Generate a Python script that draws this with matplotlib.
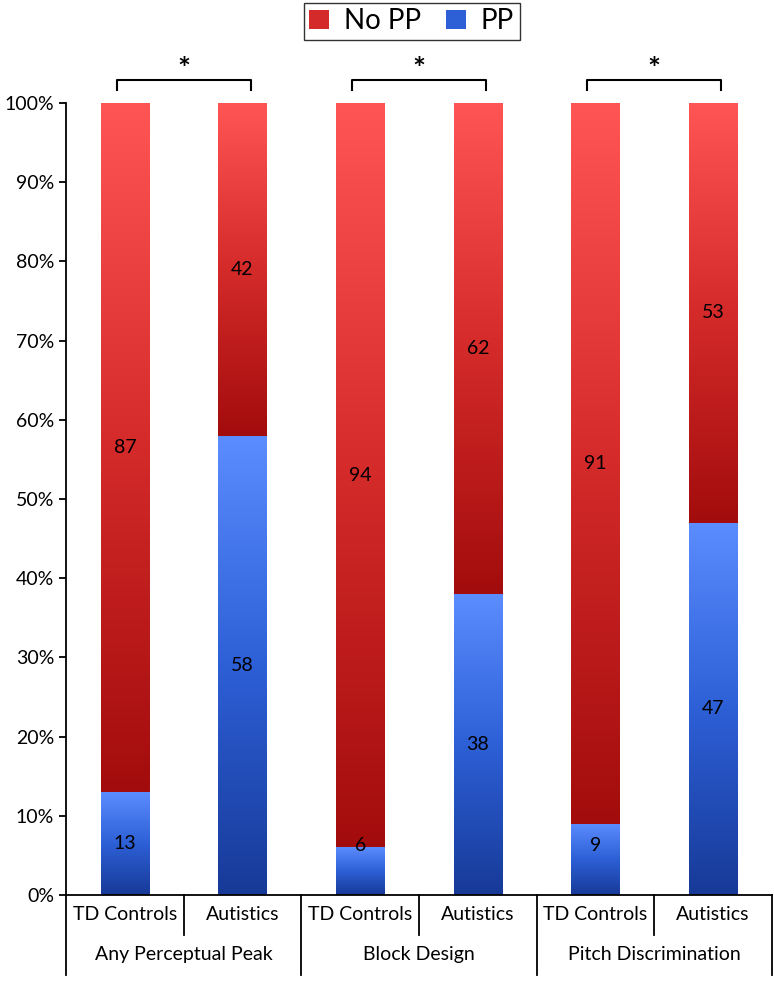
import numpy as np
import matplotlib.pyplot as plt
from matplotlib.colors import LinearSegmentedColormap
from matplotlib.patches import Patch
import matplotlib.transforms as mtransforms

plt.rcParams['font.family'] = ['Lato', 'DejaVu Sans']

groups = ["Any Perceptual Peak", "Block Design", "Pitch Discrimination"]
subjects = ["TD Controls", "Autistics"]
pp = [13, 58, 6, 38, 9, 47]
no_pp = [87, 42, 94, 62, 91, 53]

red_cmap = LinearSegmentedColormap.from_list("red", ["#a30c0c", "#d42a2a", "#ff5555"])
blue_cmap = LinearSegmentedColormap.from_list("blue", ["#173a98", "#2d5fd6", "#5b8dff"])
grad = np.linspace(0, 1, 256).reshape(-1, 1)

fig = plt.figure(figsize=(7.74, 9.81), dpi=100)
ax = fig.add_axes([0.0853, 0.0877, 0.9121, 0.8073])

x = np.arange(len(pp))
width = 0.41
bars_pp = ax.bar(x, pp, width, color="none")
bars_no = ax.bar(x, no_pp, width, bottom=pp, color="none")

for bars, cmap, vals in [(bars_pp, blue_cmap, pp), (bars_no, red_cmap, no_pp)]:
    for rect, v in zip(bars, vals):
        x0, y0 = rect.get_x(), rect.get_y()
        x1, y1 = x0 + rect.get_width(), y0 + rect.get_height()
        ax.imshow(grad, cmap=cmap, extent=[x0, x1, y0, y1], origin="lower",
                  aspect="auto", zorder=2)
        ymid = max(y0 + v / 2, 6.3)
        ax.text(x0 + rect.get_width() / 2, ymid, str(v), ha="center", va="center",
                fontsize=14, zorder=3)

ax.set_xlim(-0.5, len(pp) - 0.5)
ax.set_ylim(0, 100)
ax.set_yticks(np.arange(0, 101, 10))
ax.set_yticklabels([f"{t}%" for t in range(0, 101, 10)], fontsize=14)
ax.tick_params(axis="y", direction="out", length=5, width=1.3)
ax.set_xticks([])
for s in ["top", "right"]:
    ax.spines[s].set_visible(False)
ax.spines["left"].set_linewidth(1.3)
ax.spines["bottom"].set_linewidth(1.3)

# two-level category axis
trans = mtransforms.blended_transform_factory(ax.transData, ax.transAxes)
inner = 40 / 792
outer = 80 / 792
for i in range(len(pp)):
    ax.text(i, -inner / 2, subjects[i % 2], transform=trans, ha="center", va="center",
            fontsize=14)
for g, name in enumerate(groups):
    ax.text(2 * g + 0.5, -(inner + outer) / 2, name, transform=trans, ha="center",
            va="center", fontsize=14)
    ax.plot([2 * g + 0.5] * 2, [0, -inner], transform=trans, color="black", lw=1.3,
            clip_on=False)
for b in [-0.5, 1.5, 3.5, 5.5]:
    ax.plot([b, b], [0, -outer], transform=trans, color="black", lw=1.3, clip_on=False)

# significance brackets
for g in range(3):
    a, b = 2 * g - 0.07, 2 * g + 1.07
    ax.plot([a, a, b, b], [101.7, 102.9, 102.9, 101.7], color="black", lw=1.5,
            clip_on=False)
    ax.text(2 * g + 0.5, 103.0, "*", ha="center", va="baseline", fontsize=22,
            fontweight="bold")

handles = [Patch(facecolor="#d42a2a", edgecolor="none"),
           Patch(facecolor="#2d5fd6", edgecolor="none")]
fig.legend(handles, ["No PP", "PP"], loc="upper center", bbox_to_anchor=(0.532, 0.997),
           ncol=2, fontsize=20, frameon=True, fancybox=False, edgecolor="black",
           handlelength=0.7, handleheight=0.7, handletextpad=0.55, columnspacing=0.9,
           borderpad=0.2, borderaxespad=0)

fig.savefig("out.png", dpi=100)
